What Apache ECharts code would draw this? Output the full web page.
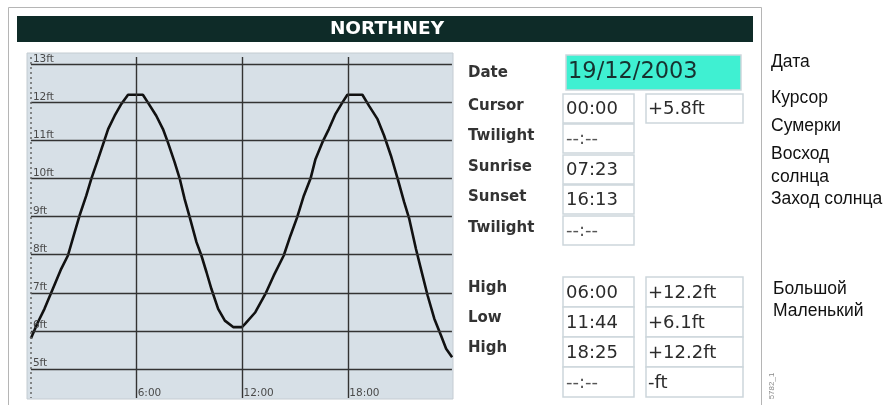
<!DOCTYPE html>
<html>
<head>
<meta charset="utf-8">
<script src="https://cdn.jsdelivr.net/npm/echarts@6/dist/echarts.min.js"></script>
<style>
  html, body { margin: 0; padding: 0; background: #ffffff; }
  #chart { width: 886px; height: 405px; }
</style>
</head>
<body>
<div id="chart"></div>
<script>
// Tide height over the day (hours since midnight, feet)
const tideHours = [0.00, 0.39, 0.77, 1.24, 1.72, 2.10, 2.48, 2.76, 3.14, 3.43, 3.81, 4.13, 4.38, 4.75, 5.13, 5.51, 6.35,
  6.63, 7.11, 7.49, 7.77, 8.15, 8.44, 8.72, 9.01, 9.39, 9.67, 9.96, 10.24, 10.62, 11.00, 11.47, 11.97,
  12.16, 12.73, 13.30, 13.77, 14.34, 14.72, 15.10, 15.48, 15.86, 16.14, 16.53, 16.90, 17.28, 17.67, 17.95, 18.80,
  19.18, 19.66, 20.03, 20.42, 20.80, 21.17, 21.46, 21.84, 22.12, 22.50, 22.88, 23.26, 23.55, 23.89];
const tideFeet = [5.80, 6.22, 6.58, 7.10, 7.63, 7.98, 8.59, 9.03, 9.55, 10.00, 10.51, 10.95, 11.30, 11.65, 11.96, 12.20, 12.20,
  12.00, 11.65, 11.30, 10.95, 10.43, 10.00, 9.46, 8.98, 8.33, 7.98, 7.54, 7.10, 6.58, 6.27, 6.10, 6.10,
  6.19, 6.49, 6.97, 7.45, 7.98, 8.50, 8.98, 9.55, 10.00, 10.51, 10.95, 11.30, 11.70, 12.00, 12.20, 12.20,
  11.91, 11.56, 11.13, 10.60, 10.00, 9.38, 8.94, 8.15, 7.63, 6.93, 6.32, 5.88, 5.53, 5.31];

// Axis ticks
const feetTicks = [5, 6, 7, 8, 9, 10, 11, 12, 13];
const hourTicks = [6, 12, 18];
const hourTickLabels = ['6:00', '12:00', '18:00'];

// Station and info panel
const stationName = 'NORTHNEY';
const dateText = '19/12/2003';
const infoLabels = ['Cursor', 'Twilight', 'Sunrise', 'Sunset', 'Twilight'];
const infoTimes = ['00:00', '--:--', '07:23', '16:13', '--:--'];
const cursorHeight = '+5.8ft';
const eventTypes = ['High', 'Low', 'High', ''];
const eventTimes = ['06:00', '11:44', '18:25', '--:--'];
const eventHeights = [12.2, 6.1, 12.2, null];

// Russian captions
const captionsTop = ['Дата', 'Курсор', 'Сумерки', 'Восход', 'солнца', 'Заход солнца'];
const captionsEvents = ['Большой', 'Маленький'];
const figureCode = '5782_1';

const X_MIN = -0.221, X_MAX = 23.94, Y_MIN = 4.212, Y_MAX = 13.297;
const LINE_TOP = 13.19, LINE_BOTTOM = 4.24, LINE_END = 23.88;

const chart = echarts.init(document.getElementById('chart'), null, { renderer: 'canvas' });

const gridLineStyle = { color: '#333333', width: 1.4, type: 'solid' };

const horizontalLines = feetTicks.map(v => [
  { coord: [0, v], value: v },
  { coord: [LINE_END, v] }
]);
const verticalLines = hourTicks.map(h => [
  { coord: [h, LINE_TOP], label: { show: false } },
  { coord: [h, LINE_BOTTOM] }
]);
const zeroLine = [[
  { coord: [0, LINE_TOP], label: { show: false }, lineStyle: { color: '#666666', width: 1.5, type: [2, 3] } },
  { coord: [0, LINE_BOTTOM] }
]];

const hourLabelPoints = hourTicks.map((h, i) => ({
  coord: [h, 4.37],
  value: hourTickLabels[i]
}));

// Info panel graphics
const FONT = '"DejaVu Sans", Verdana, sans-serif';
const graphics = [];
function box(x, y, w, h, fill) {
  graphics.push({ type: 'rect', shape: { x, y, width: w, height: h },
    style: { fill: fill || '#ffffff', stroke: '#cdd6db', lineWidth: 1.5 }, silent: true });
}
function text(str, x, y, opts) {
  graphics.push({ type: 'text', x, y, silent: true,
    style: Object.assign({ text: str, fill: '#2b2b2b', font: '16px ' + FONT,
      textAlign: 'left', textVerticalAlign: 'middle', align: 'left', verticalAlign: 'middle' }, opts || {}) });
}

const LABEL_FONT = 'bold 15px ' + FONT;
const LABEL_COLOR = '#333333';
const VALUE_FONT = '18px ' + FONT;

// outer frame and title bar
graphics.push({ type: 'rect', shape: { x: 8.5, y: 7.5, width: 753, height: 410 },
  style: { fill: 'none', stroke: '#b5b5b5', lineWidth: 1 }, silent: true, z: -5 });
graphics.push({ type: 'rect', shape: { x: 17, y: 16, width: 736, height: 26 },
  style: { fill: '#0e2b28' }, silent: true });
text(stationName, 387, 29.5, { fill: '#ffffff', font: 'bold 18.5px ' + FONT, textAlign: 'center', align: 'center' });

// date row
text('Date', 468, 73, { font: LABEL_FONT, fill: LABEL_COLOR });
box(566, 55, 175, 35, '#3ff0d2');
text(dateText, 568, 72.5, { font: '22.5px ' + FONT, fill: '#173230' });

// cursor / sun rows
const rowTops = [94, 124, 155, 185, 216];
infoLabels.forEach((lab, i) => {
  const top = rowTops[i];
  text(lab, 468, top + 12, { font: LABEL_FONT, fill: LABEL_COLOR });
  box(563, top, 71, 29);
  const t = infoTimes[i];
  text(t, 566, top + 15, { font: VALUE_FONT, fill: t.indexOf('-') >= 0 ? '#555555' : '#2b2b2b' });
});
box(646, 94, 97, 29);
text(cursorHeight, 648, 109, { font: VALUE_FONT });

// tide events
const eventTops = [277, 307, 337, 367];
eventTypes.forEach((lab, i) => {
  const top = eventTops[i];
  if (lab) text(lab, 468, top + 11, { font: LABEL_FONT, fill: LABEL_COLOR });
  box(563, top, 71, 30);
  box(646, top, 97, 30);
  const t = eventTimes[i];
  text(t, 566, top + 16, { font: VALUE_FONT, fill: t.indexOf('-') >= 0 ? '#555555' : '#2b2b2b' });
  const hv = eventHeights[i];
  text(hv == null ? '-ft' : '+' + hv.toFixed(1) + 'ft', 648, top + 16, { font: VALUE_FONT });
});

// captions to the right
const CAP_FONT = '17.5px "Liberation Sans", Arial, sans-serif';
const capY = [62, 98, 126, 154, 177, 199];
captionsTop.forEach((c, i) => text(c, 771, capY[i], { font: CAP_FONT, fill: '#111111' }));
const capEvY = [289, 311];
captionsEvents.forEach((c, i) => text(c, 773, capEvY[i], { font: CAP_FONT, fill: '#111111' }));
graphics.push({ type: 'text', x: 772, y: 386, rotation: Math.PI / 2, silent: true,
  style: { text: figureCode, fill: '#8a8a8a', font: '8px "Liberation Sans", Arial, sans-serif',
    textAlign: 'center', textVerticalAlign: 'middle', align: 'center', verticalAlign: 'middle' } });

chart.setOption({
  animation: false,
  backgroundColor: '#ffffff',
  grid: {
    left: 27, top: 53, width: 426, height: 346,
    show: true, backgroundColor: '#d7e0e7', borderColor: '#c4ccd2', borderWidth: 1
  },
  xAxis: {
    type: 'value', min: X_MIN, max: X_MAX,
    axisLine: { show: false }, axisTick: { show: false }, axisLabel: { show: false }, splitLine: { show: false }
  },
  yAxis: {
    type: 'value', min: Y_MIN, max: Y_MAX,
    axisLine: { show: false }, axisTick: { show: false }, axisLabel: { show: false }, splitLine: { show: false }
  },
  graphic: { elements: graphics },
  series: [
    {
      name: 'grid',
      type: 'line',
      data: [],
      z: 1,
      silent: true,
      markLine: {
        silent: true,
        symbol: ['none', 'none'],
        animation: false,
        lineStyle: gridLineStyle,
        label: {
          show: true,
          position: 'insideStartTop',
          distance: [2, 0],
          formatter: p => p.value + 'ft',
          color: '#4a4a4a',
          fontSize: 10.5,
          fontFamily: FONT
        },
        data: horizontalLines.concat(verticalLines, zeroLine)
      },
      markPoint: {
        silent: true,
        symbol: 'circle',
        symbolSize: 0,
        animation: false,
        label: {
          show: true,
          position: 'right',
          distance: 1,
          formatter: p => p.value,
          color: '#4a4a4a',
          fontSize: 10.5,
          fontFamily: FONT
        },
        data: hourLabelPoints
      }
    },
    {
      name: 'tide',
      type: 'line',
      z: 3,
      data: tideHours.map((h, i) => [h, tideFeet[i]]),
      showSymbol: false,
      symbol: 'none',
      smooth: false,
      lineStyle: { color: '#111111', width: 2.6 }
    }
  ]
});
</script>
</body>
</html>
